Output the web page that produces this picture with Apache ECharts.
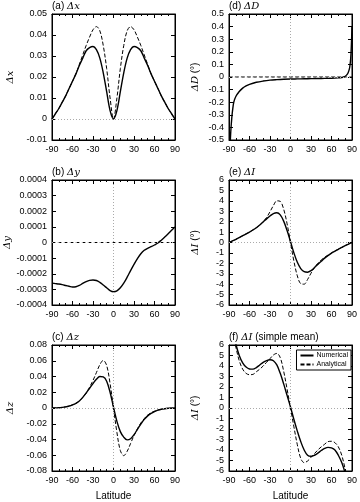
<!DOCTYPE html>
<html>
<head>
<meta charset="utf-8">
<script src="https://cdn.jsdelivr.net/npm/echarts@6/dist/echarts.min.js"></script>
<style>
  html, body { margin: 0; padding: 0; background: #fff; }
  #chart { width: 360px; height: 502px; }
</style>
</head>
<body>
<div id="chart"></div>
<script>
// latitude grid (deg)
const lat = [-90, -85, -80, -75, -70, -65, -60, -55, -50, -45, -40, -35, -30, -25, -20, -15, -10, -5, 0,
  5, 10, 15, 20, 25, 30, 35, 40, 45, 50, 55, 60, 65, 70, 75, 80, 85, 90];
const latEnds = [-90, 90];

// (a) dx
const dxNum = [0, 0.0025, 0.005, 0.008, 0.011, 0.0145, 0.018, 0.0215, 0.0255, 0.029, 0.0325, 0.034, 0.0345, 0.033, 0.029, 0.022, 0.013, 0.004, 0,
  0.004, 0.013, 0.022, 0.029, 0.033, 0.0345, 0.034, 0.0325, 0.029, 0.0255, 0.0215, 0.018, 0.0145, 0.011, 0.008, 0.005, 0.0025, 0];
const dxAna = [0, 0.0025, 0.005, 0.008, 0.011, 0.0145, 0.018, 0.0215, 0.026, 0.0305, 0.035, 0.039, 0.0425, 0.044, 0.042, 0.035, 0.024, 0.010, 0,
  0.010, 0.024, 0.035, 0.042, 0.044, 0.0425, 0.039, 0.035, 0.0305, 0.026, 0.0215, 0.018, 0.0145, 0.011, 0.008, 0.005, 0.0025, 0];

// (b) dy
const dyNum = [-0.00026, -0.000263, -0.000266, -0.00027, -0.000275, -0.00028, -0.000285, -0.000283, -0.000275, -0.000262, -0.00025, -0.000242, -0.00024, -0.000243, -0.000255, -0.000272, -0.00029, -0.000308, -0.000315,
  -0.00031, -0.00029, -0.00026, -0.000222, -0.00018, -0.00014, -0.000103, -0.000072, -0.00005, -0.000037, -0.000027, -0.000016, -0.000003, 0.000015, 0.000035, 0.000056, 0.000078, 0.0001];
const dyAna = [0, 0];

// (c) dz
const dzNum = [0, 0.0001, 0.0003, 0.0008, 0.0015, 0.0025, 0.004, 0.006, 0.009, 0.0135, 0.019, 0.025, 0.031, 0.0365, 0.040, 0.0395, 0.034, 0.02, 0.001,
  -0.017, -0.030, -0.037, -0.0405, -0.039, -0.034, -0.027, -0.0205, -0.0145, -0.010, -0.0068, -0.0045, -0.0028, -0.0016, -0.0009, -0.0004, -0.0001, 0];
const dzAna = [0, 0.0001, 0.0003, 0.0008, 0.0015, 0.0025, 0.004, 0.006, 0.009, 0.0135, 0.019, 0.0265, 0.035, 0.045, 0.055, 0.0605, 0.054, 0.031, 0,
  -0.031, -0.054, -0.0605, -0.055, -0.045, -0.035, -0.0265, -0.019, -0.0135, -0.009, -0.006, -0.004, -0.0025, -0.0015, -0.0008, -0.0003, -0.0001, 0];

// (d) dD (deg), denser near the poles
const latD = [-89, -88, -87, -86, -85, -83, -80, -75, -70, -65, -60, -50, -40, -30, -20, -10, 0,
  10, 20, 30, 40, 50, 60, 70, 75, 78, 80, 82, 84, 86, 87, 88, 89, 90];
const dDNum = [-0.7, -0.5, -0.4, -0.33, -0.275, -0.2, -0.155, -0.115, -0.088, -0.07, -0.058, -0.042, -0.032, -0.025, -0.021, -0.018, -0.016,
  -0.015, -0.014, -0.013, -0.012, -0.011, -0.01, -0.007, -0.004, 0, 0.006, 0.015, 0.03, 0.06, 0.09, 0.14, 0.24, 0.4];
const dDAna = [0, 0];

// (e) dI (deg)
const dINum = [0, 0.15, 0.3, 0.47, 0.65, 0.82, 1.0, 1.2, 1.42, 1.68, 1.97, 2.27, 2.55, 2.78, 2.85, 2.65, 2.05, 1.15, 0.1,
  -1.0, -1.9, -2.5, -2.8, -2.85, -2.7, -2.42, -2.1, -1.8, -1.5, -1.25, -1.02, -0.83, -0.65, -0.47, -0.3, -0.15, 0];
const dIAna = [0, 0.15, 0.3, 0.47, 0.65, 0.82, 1.0, 1.2, 1.42, 1.68, 2.0, 2.4, 2.95, 3.55, 4.0, 3.95, 3.2, 1.8, 0,
  -1.8, -3.2, -3.95, -4.0, -3.55, -2.95, -2.4, -2.0, -1.68, -1.42, -1.2, -1.0, -0.82, -0.65, -0.47, -0.3, -0.15, 0];

// (f) dI simple mean (deg)
const dIMeanNum = [9.0, 7.5, 6.1, 5.0, 4.3, 3.9, 3.72, 3.7, 3.85, 4.1, 4.35, 4.52, 4.6, 4.5, 4.1, 3.3, 2.3, 1.2, 0.1,
  -1.1, -2.2, -3.2, -4.0, -4.5, -4.6, -4.5, -4.3, -4.05, -3.85, -3.75, -3.8, -4.0, -4.5, -5.2, -6.2, -7.5, -9.0];
const dIMeanAna = [8.8, 7.2, 5.8, 4.5, 3.7, 3.3, 3.17, 3.2, 3.45, 3.7, 4.0, 4.35, 4.7, 5.05, 5.2, 4.8, 3.5, 1.8, 0,
  -1.8, -3.5, -4.8, -5.2, -5.05, -4.7, -4.35, -4.0, -3.7, -3.45, -3.2, -3.17, -3.3, -3.7, -4.5, -5.8, -7.2, -8.8];

const FONT = 'Liberation Sans';
const cols = [52, 229];
const rows = [14, 180, 345];
const heights = [126, 125, 127];
const W = 123;

const panels = [
  {tag: '(a) ', sym: 'Δx', extra: '', yName: 'Δx', deg: false, min: -0.01, max: 0.05, step: 0.01,
    num: [lat, dxNum], ana: [lat, dxAna], vline: false, col: 0, row: 0},
  {tag: '(b) ', sym: 'Δy', extra: '', yName: 'Δy', deg: false, min: -0.0004, max: 0.0004, step: 0.0001,
    num: [lat, dyNum], ana: [latEnds, dyAna], vline: true, col: 0, row: 1},
  {tag: '(c) ', sym: 'Δz', extra: '', yName: 'Δz', deg: false, min: -0.08, max: 0.08, step: 0.02,
    num: [lat, dzNum], ana: [lat, dzAna], vline: true, col: 0, row: 2, xName: 'Latitude'},
  {tag: '(d) ', sym: 'ΔD', extra: '', yName: 'ΔD', deg: true, min: -0.5, max: 0.5, step: 0.1,
    num: [latD, dDNum], ana: [latEnds, dDAna], vline: true, col: 1, row: 0},
  {tag: '(e) ', sym: 'ΔI', extra: '', yName: 'ΔI', deg: true, min: -6, max: 6, step: 1,
    num: [lat, dINum], ana: [lat, dIAna], vline: true, col: 1, row: 1},
  {tag: '(f) ', sym: 'ΔI', extra: ' (simple mean)', yName: 'ΔI', deg: true, min: -6, max: 6, step: 1,
    num: [lat, dIMeanNum], ana: [lat, dIMeanAna], vline: true, col: 1, row: 2, xName: 'Latitude'}
];

const pairs = (xs, ys) => xs.map((x, i) => [x, ys[i]]);
const fmt = v => {
  const r = Math.round(v * 1e6) / 1e6;
  return r === 0 ? '0' : String(r);
};

const grid = [], xAxis = [], yAxis = [], series = [], title = [];
const nameRich = {
  i: {fontFamily: 'DejaVu Serif', fontStyle: 'italic', fontWeight: 'normal', fontSize: 10, color: '#000'},
  n: {fontFamily: FONT, fontWeight: 'normal', fontSize: 10, color: '#000'}
};

panels.forEach((p, k) => {
  grid.push({left: cols[p.col], top: rows[p.row], width: W, height: heights[p.row],
    show: true, borderColor: '#000', borderWidth: 1, backgroundColor: 'transparent'});
  title.push({
    text: '{n|' + p.tag + '}{i|' + p.sym + '}{n|' + p.extra + '}',
    left: cols[p.col], top: rows[p.row] - 13, padding: 0,
    textStyle: {fontWeight: 'normal', rich: nameRich}
  });
});

// bottom / left axes with labels
panels.forEach((p, k) => {
  xAxis.push({
    gridIndex: k, type: 'value', min: -90, max: 90, interval: 30,
    axisLine: {show: true, onZero: false, lineStyle: {color: '#000', width: 1}},
    axisTick: {inside: true, length: 4, lineStyle: {color: '#000'}},
    minorTick: {show: true, splitNumber: 3, length: 2, lineStyle: {color: '#000'}},
    splitLine: {show: false},
    axisLabel: {color: '#000', fontFamily: FONT, fontSize: 9, margin: 5},
    name: p.xName || '', nameLocation: 'middle', nameGap: 20,
    nameTextStyle: {color: '#000', fontFamily: FONT, fontSize: 10}
  });
  yAxis.push({
    gridIndex: k, type: 'value', min: p.min, max: p.max, interval: p.step,
    axisLine: {show: true, onZero: false, lineStyle: {color: '#000', width: 1}},
    axisTick: {inside: true, length: 4, lineStyle: {color: '#000'}},
    splitLine: {show: false},
    axisLabel: {color: '#000', fontFamily: FONT, fontSize: 9, margin: 5, formatter: fmt},
    name: p.deg ? '{i|' + p.yName + '}{n| (°)}' : '{i|' + p.yName + '}',
    nameLocation: 'middle', nameRotate: 90,
    nameGap: p.col === 0 ? 37 : 29,
    nameTextStyle: {rich: nameRich}
  });
});

// mirrored axes (ticks only)
panels.forEach((p, k) => {
  xAxis.push({
    gridIndex: k, type: 'value', position: 'top', min: -90, max: 90, interval: 30,
    axisLine: {show: true, onZero: false, lineStyle: {color: '#000'}},
    axisTick: {inside: true, length: 4, lineStyle: {color: '#000'}},
    minorTick: {show: true, splitNumber: 3, length: 2, lineStyle: {color: '#000'}},
    splitLine: {show: false}, axisLabel: {show: false}
  });
  yAxis.push({
    gridIndex: k, type: 'value', position: 'right', min: p.min, max: p.max, interval: p.step,
    axisLine: {show: true, onZero: false, lineStyle: {color: '#000'}},
    axisTick: {inside: true, length: 4, lineStyle: {color: '#000'}},
    splitLine: {show: false}, axisLabel: {show: false}
  });
});

panels.forEach((p, k) => {
  const zeroLines = [{yAxis: 0}];
  if (p.vline) zeroLines.push({xAxis: 0});
  series.push({
    name: 'Numerical', type: 'line', xAxisIndex: k, yAxisIndex: k,
    data: pairs(p.num[0], p.num[1]), showSymbol: false, symbol: 'none', smooth: 0.35,
    clip: true, silent: true, z: 3,
    lineStyle: {color: '#000', width: 1.4, type: 'solid'},
    itemStyle: {color: '#000'},
    markLine: {
      silent: true, symbol: ['none', 'none'], label: {show: false},
      lineStyle: {color: '#aaa', type: [1, 2], width: 1}, animation: false,
      data: zeroLines
    }
  });
  series.push({
    name: 'Analytical', type: 'line', xAxisIndex: k, yAxisIndex: k,
    data: pairs(p.ana[0], p.ana[1]), showSymbol: false, symbol: 'none', smooth: 0.35,
    clip: true, silent: true, z: 4,
    lineStyle: {color: '#000', width: 1, type: [4, 2]},
    itemStyle: {color: '#000'}
  });
});

const chart = echarts.init(document.getElementById('chart'), null, {renderer: 'canvas'});
chart.setOption({
  animation: false,
  backgroundColor: '#fff',
  title: title,
  grid: grid,
  xAxis: xAxis,
  yAxis: yAxis,
  series: series,
  legend: {
    data: ['Numerical', 'Analytical'],
    orient: 'vertical', right: 9, top: 350,
    itemWidth: 13, itemHeight: 6, itemGap: 2,
    padding: [2, 3, 2, 3],
    borderColor: '#000', borderWidth: 1, backgroundColor: '#fff',
    selectedMode: false,
    itemStyle: {opacity: 0},
    textStyle: {fontFamily: FONT, fontSize: 7, color: '#000', padding: [0, 0, 0, -2]}
  }
});
</script>
</body>
</html>
